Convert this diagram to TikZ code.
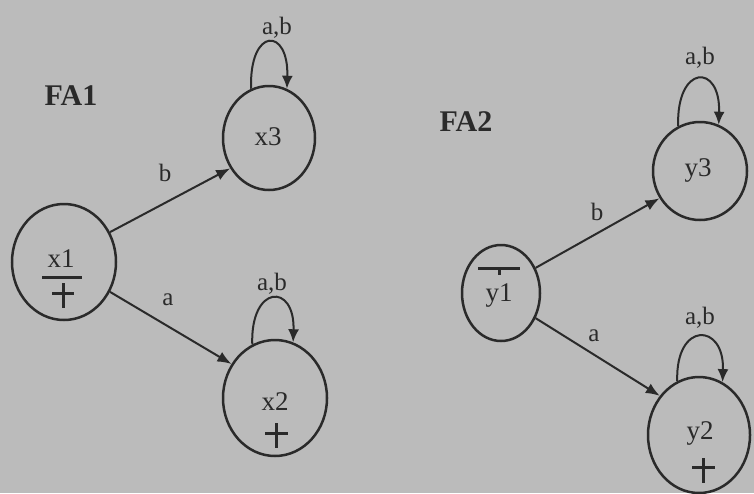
\documentclass[tikz,border=0pt]{standalone}
\usepackage{fontspec}
\setmainfont{Liberation Serif}
\usetikzlibrary{shapes.geometric,arrows.meta}
\definecolor{bg}{HTML}{BBBBBB}
\definecolor{ink}{HTML}{2A2A2A}
\begin{document}
\begin{tikzpicture}[x=1pt,y=-1pt,
  state/.style={ellipse,draw=ink,line width=2.5pt,inner sep=0pt},
  edge/.style={draw=ink,line width=2pt,-{Latex[length=14pt,width=11pt]}},
  loopedge/.style={draw=ink,line width=2pt,-{Latex[length=13pt,width=11pt]}},
  statetext/.style={text=ink,font=\fontsize{27}{27}\selectfont,inner sep=0pt},
  edgetext/.style={text=ink,font=\fontsize{25}{25}\selectfont,inner sep=0pt},
  title/.style={text=ink,font=\fontsize{30}{30}\selectfont\bfseries,inner sep=0pt},
  mark line/.style={draw=ink,line width=3pt}]
\fill[bg] (0,0) rectangle (754,493);
\useasboundingbox (0,0) rectangle (754,493);

% titles
\node[title] (fa1) at (71,96) {FA1};
\node[title] (fa2) at (466,122) {FA2};

% FA1 states
\node[state,minimum width=104pt,minimum height=116pt] (x1) at (64,262) {};
\node[state,minimum width=92pt,minimum height=104pt] (x3) at (269,138) {};
\node[state,minimum width=104pt,minimum height=116pt] (x2) at (275,398) {};

\node[statetext] (x1t) at (61,259) {x1};
\draw[mark line] (42,277) -- (82,277);
\draw[mark line] (52,293) -- (74,293) (63,283) -- (63,308);
\node[statetext] (x3t) at (268,137) {x3};
\node[statetext] (x2t) at (275,402) {x2};
\draw[mark line] (265,433) -- (288,433) (276,423) -- (276,448);

% FA2 states
\node[state,minimum width=78pt,minimum height=96pt] (y1) at (501,293) {};
\node[state,minimum width=94pt,minimum height=98pt] (y3) at (700,171) {};
\node[state,minimum width=102pt,minimum height=116pt] (y2) at (699,435) {};

\node[statetext] (y1t) at (499,295) {y1};
\draw[mark line] (478,268) -- (520,268) (499,268) -- (499,275);
\node[statetext] (y3t) at (698,170) {y3};
\node[statetext] (y2t) at (700,433) {y2};
\draw[mark line] (692,467) -- (715,467) (703,458) -- (703,483);

% FA1 transitions
\draw[edge] (x1.33) -- (x3.218);
\draw[edge] (x1.-33) -- (x2.142);
\node[edgetext] (lb1) at (165,173) {b};
\node[edgetext] (la1) at (168,300) {a};
\draw[loopedge] (x3.110) .. controls +(-2,-62) and +(2,-62) .. (x3.70);
\node[edgetext] (l3) at (277,28) {a,b};
\draw[loopedge] (x2.113) .. controls +(-2,-60) and +(2,-60) .. (x2.72);
\node[edgetext] (l2) at (272,284) {a,b};

% FA2 transitions
\draw[edge] (y1.36) -- (y3.214);
\draw[edge] (y1.-36) -- (y2.135);
\node[edgetext] (lb2) at (597,212) {b};
\node[edgetext] (la2) at (594,336) {a};
\draw[loopedge] (y3.116) .. controls +(-2,-62) and +(2,-62) .. (y3.68);
\node[edgetext] (m3) at (700,58) {a,b};
\draw[loopedge] (y2.112) .. controls +(-2,-60) and +(2,-60) .. (y2.66);
\node[edgetext] (m2) at (700,318) {a,b};
\end{tikzpicture}
\end{document}
